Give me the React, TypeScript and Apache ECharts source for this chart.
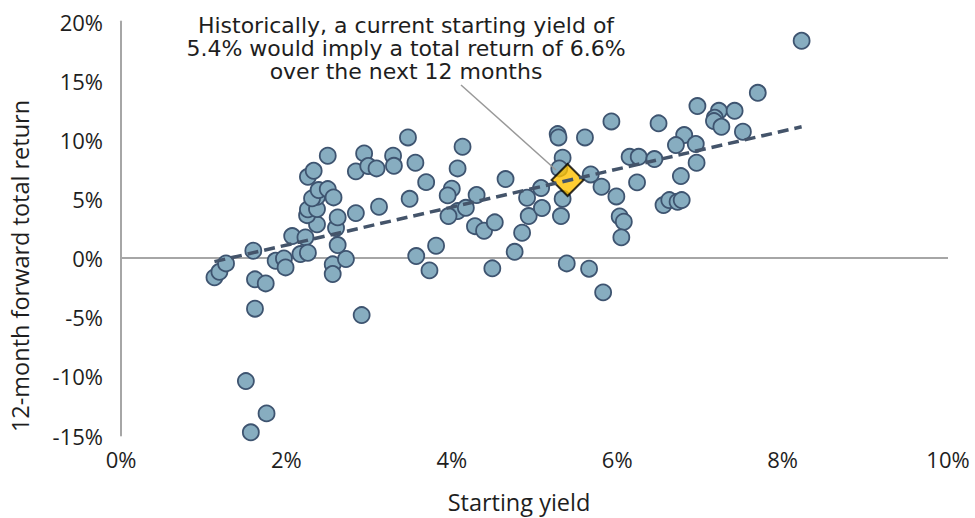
import React, { useEffect, useRef } from "react";
import * as echarts from "echarts";

const xTicks = [0, 2, 4, 6, 8, 10];
const yTicks = [-15, -10, -5, 0, 5, 10, 15, 20];

const startingYield = [
  1.13, 1.19, 1.27, 1.60, 1.62, 1.75, 1.62, 1.51, 1.76, 1.57,
  1.87, 1.97, 1.99, 2.07, 2.17, 2.23, 2.26, 2.56, 2.56, 2.72,
  2.62, 2.60, 2.62, 2.37, 2.25, 2.26, 2.37, 2.37, 2.31, 2.39,
  2.50, 2.57, 2.26, 2.33, 2.50, 2.84, 2.84, 2.94, 2.99, 3.09,
  3.12, 2.91, 3.47, 4.13, 3.29, 3.30, 3.56, 4.07, 3.69, 4.65,
  4.00, 3.95, 3.49, 4.30, 5.08, 4.91, 4.07, 4.17, 3.96, 4.28,
  4.39, 4.52, 4.93, 5.09, 4.85, 4.76, 3.57, 3.81, 3.73, 4.49,
  5.28, 5.29, 5.61, 5.34, 5.30, 5.68, 5.81, 5.34, 5.32, 5.39,
  5.66, 5.99, 6.03, 6.08, 6.05, 5.83, 5.93, 6.15, 6.26, 8.23,
  7.70, 6.97, 7.23, 7.42, 7.18, 7.17, 7.26, 7.52, 6.50, 6.81,
  6.71, 6.95, 6.96, 6.45, 6.24, 6.77, 6.56, 6.63, 6.73, 6.78,
];

const forwardReturn = [
  -1.63, -1.16, -0.45, 0.62, -1.80, -2.14, -4.28, -10.4, -13.13, -14.73,
  -0.23, -0.03, -0.79, 1.86, 0.34, 1.75, 0.45, -0.53, -1.35, -0.08,
  1.10, 2.54, 3.44, 2.85, 3.63, 4.12, 4.14, 5.18, 5.05, 5.75,
  5.83, 5.13, 6.87, 7.38, 8.65, 3.80, 7.33, 8.85, 7.78, 7.58,
  4.34, -4.82, 10.2, 9.41, 8.65, 7.80, 8.06, 7.58, 6.42, 6.68,
  5.86, 5.30, 5.01, 5.33, 5.92, 5.10, 3.97, 4.25, 3.55, 2.70,
  2.31, 3.02, 3.55, 4.23, 2.14, 0.53, 0.17, 1.04, -1.04, -0.87,
  10.48, 10.2, 10.2, 8.48, 7.58, 7.07, 6.03, 5.01, 3.55, -0.45,
  -0.90, 5.21, 3.52, 3.07, 1.75, -2.9, 11.55, 8.56, 8.56, 18.37,
  13.97, 12.85, 12.45, 12.45, 11.86, 11.58, 11.10, 10.68, 11.39, 10.40,
  9.55, 9.64, 8.06, 8.37, 6.40, 6.93, 4.48, 4.90, 4.76, 4.90,
];

const trendX = [1.13, 8.23];
const trendY = [-0.3, 11.1];

const currentYield = [5.4];
const currentReturn = [6.6];

const annotationLines = [
  "Historically, a current starting yield of",
  "5.4% would imply a total return of 6.6%",
  "over the next 12 months",
];

const FONT = "'Open Sans', sans-serif";
const NOTE_FONT = "'DejaVu Sans', sans-serif";
const TEXT = "#1e1e1e";

export default function App() {
  const ref = useRef<HTMLDivElement>(null);

  useEffect(() => {
    if (!ref.current) return;
    const chart = echarts.init(ref.current, undefined, { renderer: "svg" });
    const points = startingYield.map((x, i) => [x, forwardReturn[i]]);
    const trend = trendX.map((x, i) => [x, trendY[i]]);
    const current = currentYield.map((x, i) => [x, currentReturn[i]]);

    chart.setOption({
      animation: false,
      backgroundColor: "#ffffff",
      textStyle: { fontFamily: FONT },
      grid: { left: 121, right: 27, top: 21.5, bottom: 82.5, containLabel: false },
      xAxis: {
        type: "value",
        min: xTicks[0],
        max: xTicks[xTicks.length - 1],
        interval: 2,
        axisLine: { show: false, onZero: false },
        axisTick: { show: false },
        splitLine: { show: false },
        axisLabel: {
          formatter: (v: number) => `${v}%`,
          color: TEXT,
          fontSize: 22,
          fontFamily: FONT,
          margin: 12,
        },
      },
      yAxis: {
        type: "value",
        min: yTicks[0],
        max: yTicks[yTicks.length - 1],
        interval: 5,
        axisLine: { show: true, lineStyle: { color: "#a6a6a6", width: 2 } },
        axisTick: { show: false },
        splitLine: { show: false },
        axisLabel: {
          formatter: (v: number) => `${v}%`,
          color: TEXT,
          fontSize: 22,
          fontFamily: FONT,
          margin: 18,
        },
      },
      series: [
        {
          type: "scatter",
          data: points,
          symbol: "circle",
          symbolSize: 16,
          itemStyle: { color: "#87adc0", borderColor: "#3e5470", borderWidth: 1.8, opacity: 1 },
          markLine: {
            silent: true,
            symbol: ["none", "none"],
            label: { show: false },
            lineStyle: { color: "#a6a6a6", width: 2, type: "solid" },
            data: [{ yAxis: 0 }],
            z: 1,
          },
          z: 2,
        },
        {
          type: "scatter",
          data: current,
          symbol: "diamond",
          symbolSize: [32, 32],
          itemStyle: { color: "#ffc000", borderColor: "#000000", borderWidth: 2 },
          z: 3,
        },
        {
          type: "line",
          data: trend,
          symbol: "none",
          lineStyle: { color: "#44546a", width: 3.5, type: [11, 6] },
          z: 4,
        },
      ],
      graphic: [
        {
          type: "text",
          x: 406,
          y: 13.5,
          style: {
            text: annotationLines.join("\n"),
            fill: TEXT,
            fontSize: 22,
            fontFamily: NOTE_FONT,
            lineHeight: 23.3,
            textAlign: "center",
            textVerticalAlign: "top",
          },
        },
        {
          type: "line",
          shape: { x1: 461, y1: 85, x2: 556, y2: 170 },
          style: { stroke: "#999999", lineWidth: 1.5 },
          z: 5,
        },
        {
          type: "text",
          x: 519,
          y: 502,
          style: {
            text: "Starting yield",
            fill: TEXT,
            fontSize: 23.5,
            fontFamily: FONT,
            textAlign: "center",
            textVerticalAlign: "middle",
          },
        },
        {
          type: "text",
          x: 20,
          y: 266,
          rotation: Math.PI / 2,
          style: {
            text: "12-month forward total return",
            fill: TEXT,
            fontSize: 23.5,
            fontFamily: FONT,
            textAlign: "center",
            textVerticalAlign: "middle",
          },
        },
      ],
    });

    return () => chart.dispose();
  }, []);

  return (
    <div
      ref={ref}
      style={{ position: "fixed", left: 0, top: 0, width: 975, height: 518 }}
    />
  );
}
